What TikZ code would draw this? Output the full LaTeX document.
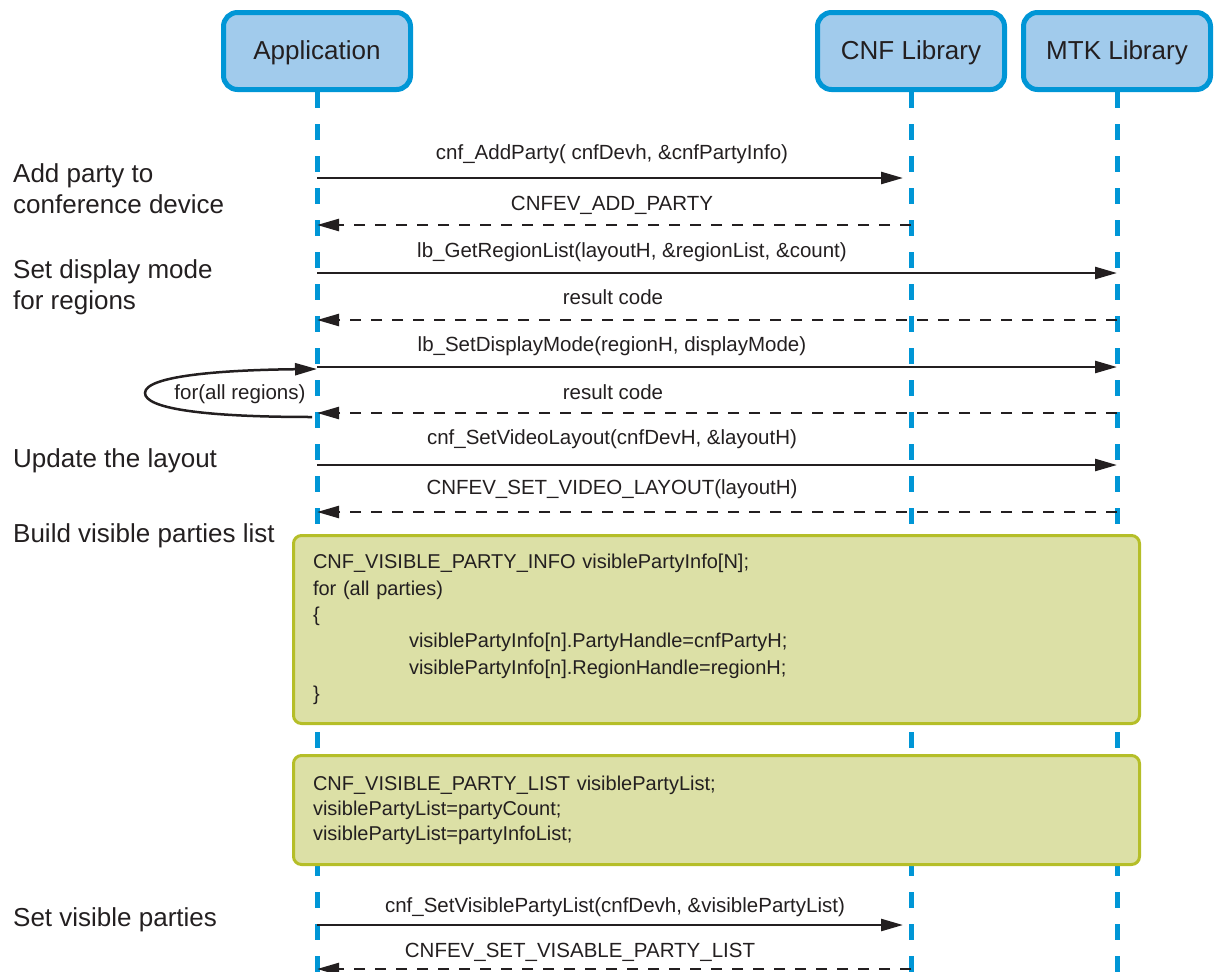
\documentclass[tikz,border=0pt]{standalone}
\usepackage{fontspec}
\setmainfont{Liberation Sans}
\usetikzlibrary{arrows.meta}
\definecolor{hdrfill}{RGB}{161,203,236}
\definecolor{hdrline}{RGB}{0,150,214}
\definecolor{grnfill}{RGB}{220,224,166}
\definecolor{grnline}{RGB}{181,190,40}
\definecolor{ink}{RGB}{35,31,32}
\tikzset{
  header/.style={draw=hdrline, fill=hdrfill, line width=5pt, rounded corners=14pt,
    minimum width=187pt, minimum height=77pt, inner sep=0pt, text=ink,
    text height=16pt, text depth=0pt,
    font=\fontsize{26}{30}\selectfont},
  lifeline/.style={draw=hdrline, line width=5pt, dash pattern=on 16pt off 16pt},
  msg/.style={draw=ink, line width=2.5pt, -{Triangle[length=22pt,width=12pt]}},
  ret/.style={msg, dash pattern=on 11pt off 10pt},
  msglabel/.style={text=ink, inner sep=0pt, anchor=base, font=\fontsize{20.5}{24}\selectfont},
  sidelabel/.style={text=ink, inner sep=0pt, anchor=base west, align=left,
    font=\fontsize{26}{31}\selectfont},
  codebox/.style={draw=grnline, fill=grnfill, line width=3pt, rounded corners=8pt,
    minimum width=846pt, text width=807pt, inner xsep=19.5pt, inner ysep=0pt,
    align=left, text=ink}
}
\begin{document}
\begin{tikzpicture}[x=1pt,y=-1pt]
\useasboundingbox (0,0) rectangle (1216,972);
% headers
\node[header] (app) at (317,51) {Application};
\node[header] (cnf) at (911,51) {CNF Library};
\node[header] (mtk) at (1117,51) {MTK Library};
% lifeline ends
\coordinate (appEnd) at (317,972);
\coordinate (cnfEnd) at (911,972);
\coordinate (mtkEnd) at (1117,972);
\draw[lifeline] (app.south) -- (appEnd);
\draw[lifeline] (cnf.south) -- (cnfEnd);
\draw[lifeline] (mtk.south) -- (mtkEnd);
% code boxes
\node[codebox, minimum height=188pt, font=\fontsize{20}{26.4}\selectfont] (box1) at (716.5,629.5)
 {CNF\_VISIBLE\_PARTY\_INFO visiblePartyInfo[N];\\
  for (all parties)\\
  \{\\
  \hspace*{96pt}visiblePartyInfo[n].PartyHandle=cnfPartyH;\\
  \hspace*{96pt}visiblePartyInfo[n].RegionHandle=regionH;\\
  \}};
\node[codebox, minimum height=109pt, font=\fontsize{20}{25}\selectfont] (box2) at (716.5,810)
 {CNF\_VISIBLE\_PARTY\_LIST visiblePartyList;\\
  visiblePartyList=partyCount;\\
  visiblePartyList=partyInfoList;};
% message coordinates
\coordinate (a1) at (317,178); \coordinate (c1) at (903,178);
\coordinate (c2) at (911,225); \coordinate (a2) at (317,225);
\coordinate (a3) at (317,273); \coordinate (m3) at (1117,273);
\coordinate (m4) at (1117,320); \coordinate (a4) at (317,320);
\coordinate (a5) at (317,367); \coordinate (m5) at (1117,367);
\coordinate (m6) at (1117,413); \coordinate (a6) at (317,413);
\coordinate (a7) at (317,465); \coordinate (m7) at (1117,465);
\coordinate (m8) at (1117,512); \coordinate (a8) at (317,512);
\coordinate (a9) at (317,925); \coordinate (c9) at (903,925);
\coordinate (c10) at (911,969); \coordinate (a10) at (317,969);
\draw[msg] (a1) -- (c1);
\draw[ret] (c2) -- (a2);
\draw[msg] (a3) -- (m3);
\draw[ret] (m4) -- (a4);
\draw[msg] (a5) -- (m5);
\draw[ret] (m6) -- (a6);
\draw[msg] (a7) -- (m7);
\draw[ret] (m8) -- (a8);
\draw[msg] (a9) -- (c9);
\draw[ret] (c10) -- (a10);
% message labels
\node[msglabel] (l1) at (612,159) {cnf\_AddParty( cnfDevh, \&cnfPartyInfo)};
\node[msglabel] (l2) at (612,210) {CNFEV\_ADD\_PARTY};
\node[msglabel] (l3) at (632,257) {lb\_GetRegionList(layoutH, \&regionList, \&count)};
\node[msglabel] (l4) at (613,304) {result code};
\node[msglabel] (l5) at (612,351) {lb\_SetDisplayMode(regionH, displayMode)};
\node[msglabel] (l6) at (613,399) {result code};
\node[msglabel] (l7) at (612,444) {cnf\_SetVideoLayout(cnfDevH, \&layoutH)};
\node[msglabel] (l8) at (612,494) {CNFEV\_SET\_VIDEO\_LAYOUT(layoutH)};
\node[msglabel] (l9) at (615,912) {cnf\_SetVisiblePartyList(cnfDevh, \&visiblePartyList)};
\node[msglabel] (l10) at (580,957) {CNFEV\_SET\_VISABLE\_PARTY\_LIST};
% loop
\coordinate (lpS) at (312,417);
\coordinate (lpE) at (317,369);
\draw[draw=ink, line width=2.5pt, -{Triangle[length=22pt,width=12pt]}]
  (lpS) .. controls (200,417) and (145,408) .. (145,393)
        .. controls (145,376) and (220,370) .. (lpE);
\node[msglabel] (loop) at (240,399) {for(all regions)};
% side labels (base = baseline of last line)
\node[sidelabel] (s1) at (13,213) {Add party to\\conference device};
\node[sidelabel] (s2) at (13,309) {Set display mode\\for regions};
\node[sidelabel] (s3) at (13,467) {Update the layout};
\node[sidelabel] (s4) at (13,542) {Build visible parties list};
\node[sidelabel] (s5) at (13,926) {Set visible parties};
\end{tikzpicture}
\end{document}
